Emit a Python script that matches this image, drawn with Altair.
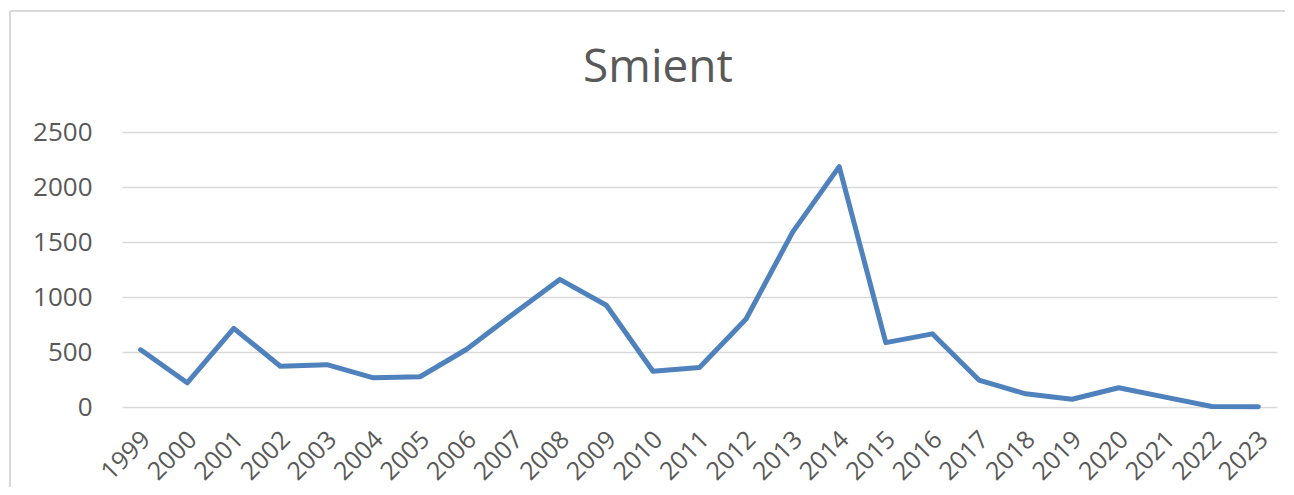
import altair as alt
import pandas as pd

TITLE = "Smient"
years = ["1999", "2000", "2001", "2002", "2003", "2004", "2005", "2006", "2007",
         "2008", "2009", "2010", "2011", "2012", "2013", "2014", "2015", "2016",
         "2017", "2018", "2019", "2020", "2021", "2022", "2023"]
counts = [520, 220, 715, 370, 385, 265, 275, 525, 845, 1160, 925, 325, 360,
          800, 1590, 2185, 585, 665, 245, 120, 70, 175, 90, 5, 2]
y_ticks = [0, 500, 1000, 1500, 2000, 2500]

df = pd.DataFrame({"year": years, "count": counts})
one = pd.DataFrame({"t": [TITLE]})

FONT = "Open Sans"
GREY = "#595959"
GRID = "#d9d9d9"

W, H = 1155, 275

line = alt.Chart(df).mark_line(
    color="#4F81BD", strokeWidth=5, strokeCap="round", strokeJoin="round"
).encode(
    x=alt.X("year:O", sort=years,
            scale=alt.Scale(type="point", padding=0.4),
            axis=alt.Axis(title=None, labelAngle=-45, labelAlign="right",
                          labelBaseline="middle", labelPadding=28, labelOffset=5,
                          labelFontSize=25, labelColor=GREY, labelFont=FONT,
                          domain=False, ticks=False, grid=False)),
    y=alt.Y("count:Q", scale=alt.Scale(domain=[0, 2500], nice=False),
            axis=alt.Axis(title=None, values=y_ticks, format="d", grid=True,
                          gridColor=GRID, gridWidth=1.5, domain=False, ticks=False,
                          labelPadding=30, labelFontSize=26, labelColor=GREY,
                          labelFont=FONT)),
)

title = alt.Chart(one).mark_text(
    font=FONT, fontSize=46, color=GREY, align="center", baseline="alphabetic"
).encode(text="t:N", x=alt.value(536), y=alt.value(-50))

frame_left = alt.Chart(one).mark_rule(color=GRID, strokeWidth=2).encode(
    x=alt.value(-112), y=alt.value(-121), y2=alt.value(400))
frame_top = alt.Chart(one).mark_rule(color=GRID, strokeWidth=2).encode(
    x=alt.value(-112), x2=alt.value(1200), y=alt.value(-121))

chart = alt.layer(frame_left, frame_top, line, title).properties(
    width=W, height=H,
    autosize=alt.AutoSizeParams(type="none"),
    padding={"left": 114, "top": 124, "right": 8, "bottom": 80},
).configure(background="white").configure_view(stroke=None)

chart.save("out.html", embed_options={"renderer": "svg", "actions": False})
